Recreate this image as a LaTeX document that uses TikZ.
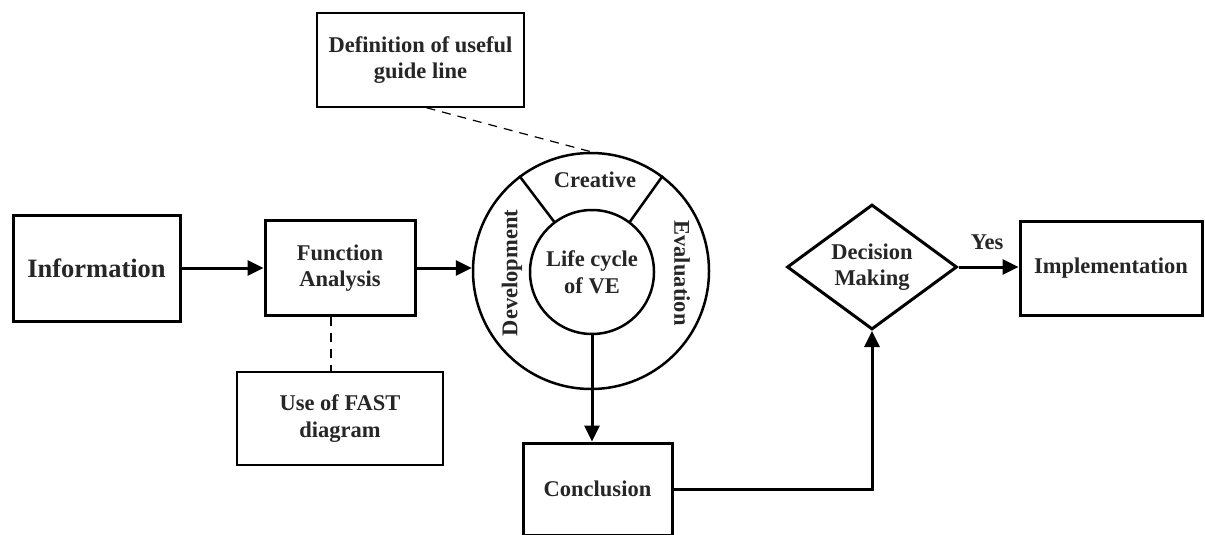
\documentclass[tikz,border=0pt]{standalone}
\usepackage{fontspec}
\setmainfont{Liberation Serif}
\usetikzlibrary{arrows.meta,shapes.geometric}
\begin{document}
\begin{tikzpicture}[x=1pt,y=-1pt,
  every node/.style={font=\bfseries\fontsize{22.5}{26.5}\selectfont, align=center, inner sep=0pt, text=black!85},
  mainbox/.style={draw=black, line width=3pt, rectangle},
  notebox/.style={draw=black, line width=1.5pt, rectangle},
  flow/.style={line width=3pt, -{Triangle[length=16pt,width=15pt]}},
  note/.style={line width=1.2pt, dash pattern=on 9pt off 7pt},
  ring/.style={draw=black, circle, line width=2.5pt}
]
\useasboundingbox (0,0) rectangle (1205,535);

% process boxes
\node[mainbox, minimum width=167pt, minimum height=106pt, font=\bfseries\fontsize{26.5}{28}\selectfont] (info) at (96.5,268) {Information};
\node[mainbox, minimum width=150pt, minimum height=95pt] (fa) at (340,268) {Function\\Analysis};
\node[mainbox, minimum width=149pt, minimum height=92pt] (concl) at (597.5,489) {Conclusion};
\node[mainbox, minimum width=182pt, minimum height=94pt] (impl) at (1111,268) {Implementation};

% remark boxes
\node[notebox, minimum width=207pt, minimum height=94pt] (guide) at (420.5,60) {Definition of useful\\guide line};
\node[notebox, minimum width=206pt, minimum height=93pt] (fast) at (340,418.5) {Use of FAST\\diagram};

% value engineering wheel
\node[ring, minimum size=236pt] (outer) at (591,271) {};
\node[ring, minimum size=124pt] (inner) at (592,272) {Life cycle\\of VE};
\draw[line width=2.5pt] (inner.127) -- (outer.127);
\draw[line width=2.5pt] (inner.53) -- (outer.53);
\node (creative) at (595,180) {Creative};
\node[rotate=90] (dev) at (512,273) {Development};
\node[rotate=-90] (eval) at (682,273) {Evaluation};

% decision
\node[draw=black, diamond, line width=3pt, minimum width=170pt, minimum height=125pt] (dm) at (872,267) {};
\node (dmtext) at (dm) {Decision\\Making};
\node (yes) at (987,242) {Yes};

% connectors
\draw[flow] (info.east) -- (fa.west);
\draw[flow] (fa.east) -- (fa.east -| outer.west);
\draw[flow] (inner.south) -- (inner.south |- concl.north);
\draw[flow] (concl.east) -| (dm.south);
\draw[flow] (dm.east) -- (dm.east -| impl.west);

% remark links
\draw[note] ([xshift=-9pt]fa.south) -- ([xshift=-9pt]fast.north);
\draw[note] ([xshift=6pt]guide.south) -- (outer.north);
\end{tikzpicture}
\end{document}
